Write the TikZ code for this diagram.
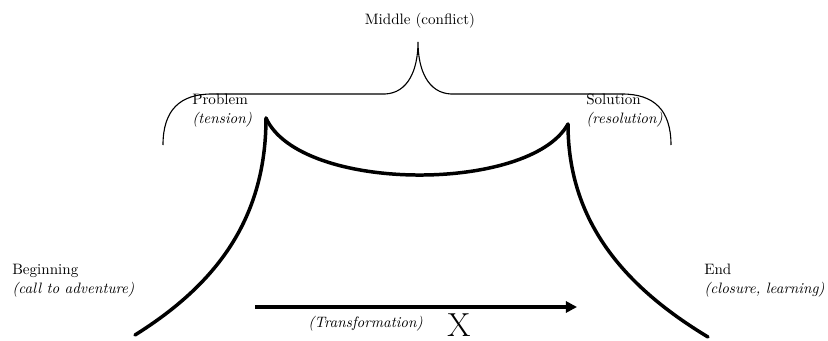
\documentclass[tikz,border=0pt]{standalone}
\usepackage{tikz}
\usetikzlibrary{arrows.meta}

\begin{document}
\begin{tikzpicture}[
  x=0.63pt, y=-0.63pt,
  lbl/.style={inner sep=0pt, align=left, anchor=base west, font=\fontsize{9.5}{11.5}\selectfont},
  arc/.style={line width=2.2pt, line cap=round},
  brace/.style={line width=0.7pt},
  scale=1
]
\useasboundingbox (0,0) rectangle (828,341);

% Labels
\node[lbl, anchor=base] (mid) at (420,24) {Middle (conflict)};
\node[lbl] (prob) at (192,123) {Problem\\\textit{(tension)}};
\node[lbl] (sol)  at (586,123) {Solution\\\textit{(resolution)}};
\node[lbl] (beg)  at (12,293) {Beginning\\\textit{(call to adventure)}};
\node[lbl] (fin)  at (704,293) {End\\\textit{(closure, learning)}};
\node[lbl] (trans) at (308,327) {\textit{(Transformation)}};
\node[lbl, font=\fontsize{21}{24}\selectfont] (xmark) at (447,336) {X};

% Brace over the middle
\draw[brace] (163,145) .. controls (163,110) and (180,94) .. (212,94)
  -- (385,94) .. controls (408,93) and (418,70) .. (418,42)
  .. controls (418,70) and (428,93) .. (451,94)
  -- (622,94) .. controls (654,94) and (671,110) .. (671,145);

% Story curve
\draw[arc] (135,335) .. controls (215,285) and (266,220) .. (266,118);
\draw[arc] (266,118) .. controls (300,193) and (530,193) .. (568,124);
\draw[arc] (568,124) .. controls (568,222) and (625,287) .. (708,337);

% Transformation arrow
\coordinate (arrs) at (255,307);
\coordinate (arre) at (577,307);
\draw[line width=2.5pt, -{Triangle[length=7pt,width=7pt]}] (arrs) -- (arre);
\end{tikzpicture}
\end{document}
